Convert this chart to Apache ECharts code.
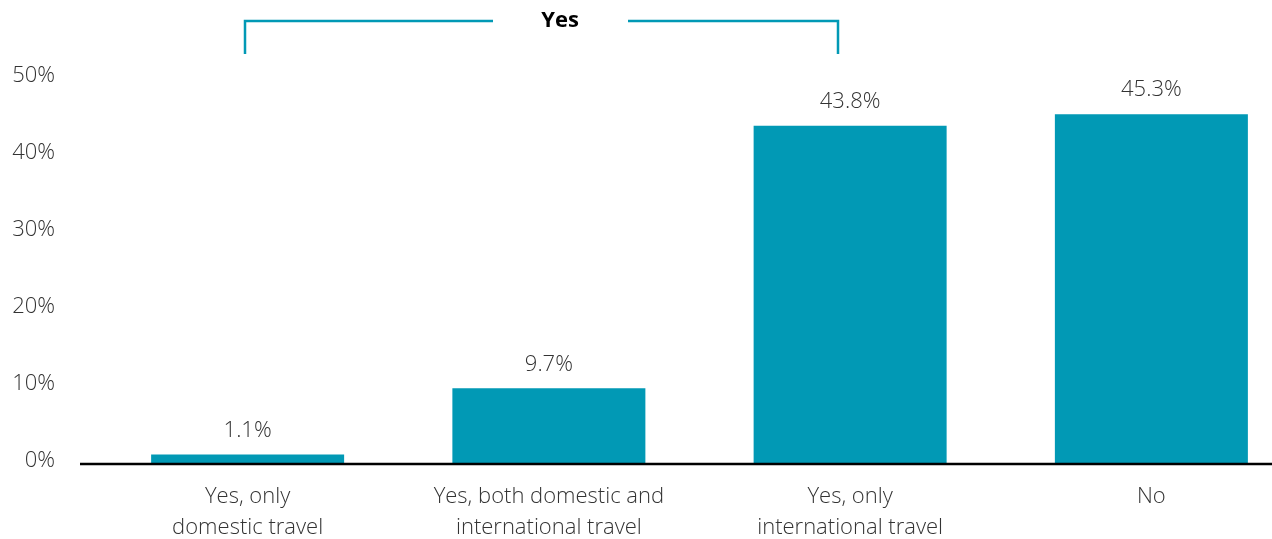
<!doctype html>
<html lang="en">
<head>
    <meta charset="UTF-8">
    <title>Travel</title>
    <script src="https://cdn.jsdelivr.net/npm/echarts@6/dist/echarts.min.js"></script>
    <style>
        html, body { margin: 0; padding: 0; background: #fff; }
        #main { width: 1272px; height: 539px; }
    </style>
</head>
<body>
<div id="main"></div>
<script>
    var categories = ['Yes, only\ndomestic travel', 'Yes, both domestic and\ninternational travel', 'Yes, only\ninternational travel', 'No'];
    var shares = [1.1, 9.7, 43.8, 45.3];
    var yTicks = [0, 10, 20, 30, 40, 50];

    var teal = '#0199b5';
    var font = '"Open Sans", "Noto Sans", sans-serif';

    var myChart = echarts.init(document.getElementById('main'));
    var option = {
        backgroundColor: '#fff',
        animation: false,
        textStyle: {fontFamily: font},
        grid: {left: 97, width: 1205, top: 78, bottom: 76, containLabel: false, outerBoundsMode: 'none'},
        xAxis: {
            type: 'category',
            data: categories,
            axisTick: {show: false},
            axisLine: {show: false},
            axisLabel: {interval: 0, hideOverlap: false, color: '#333', fontSize: 22, lineHeight: 31, margin: 18, fontWeight: 300, fontFamily: font}
        },
        yAxis: {
            type: 'value',
            min: yTicks[0],
            max: yTicks[yTicks.length - 1],
            interval: 10,
            splitLine: {show: false},
            axisLine: {show: false},
            axisTick: {show: false},
            axisLabel: {
                color: '#333', fontSize: 22, margin: 42, fontWeight: 300, fontFamily: font,
                verticalAlign: 'bottom', padding: [0, 0, -9, 0],
                formatter: '{value}%'
            }
        },
        series: [{
            type: 'bar',
            data: shares,
            barWidth: 193,
            itemStyle: {color: teal},
            label: {
                show: true,
                position: 'top',
                distance: 13,
                color: '#333',
                fontSize: 22,
                fontWeight: 300,
                fontFamily: font,
                formatter: function (p) { return p.value.toFixed(1) + '%'; }
            }
        }]
    };
    myChart.setOption(option);

    // baseline and "Yes" bracket
    var y0 = myChart.convertToPixel({yAxisIndex: 0}, 0) + 1;
    myChart.setOption({
        graphic: [
            {type: 'line', shape: {x1: 80, y1: y0, x2: 1272, y2: y0}, style: {stroke: '#000', lineWidth: 2.5}, z: 100},
            {type: 'polyline', shape: {points: [[245, 54], [245, 21], [493, 21]]}, style: {stroke: teal, lineWidth: 2.5, fill: null}},
            {type: 'polyline', shape: {points: [[628, 21], [838, 21], [838, 54]]}, style: {stroke: teal, lineWidth: 2.5, fill: null}},
            {type: 'text', x: 560, y: 21, style: {text: 'Yes', fill: '#000', font: 'bold 22px ' + font, align: 'center', verticalAlign: 'middle'}}
        ]
    });
</script>
</body>
</html>
